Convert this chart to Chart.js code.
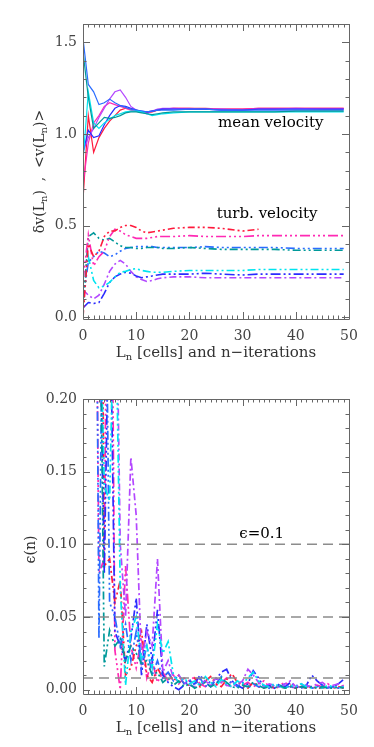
<!DOCTYPE html>
<html><head><meta charset="utf-8">
<script src="https://cdn.jsdelivr.net/npm/chart.js@4.4.1/dist/chart.umd.min.js"></script>
<style>
html,body{margin:0;padding:0;background:#fff;width:374px;height:747px;overflow:hidden}
canvas{position:absolute;left:0}
#c1{top:0;width:374px;height:372px}
#c2{top:372px;width:374px;height:375px}
</style></head><body>
<canvas id="c1" width="374" height="372"></canvas>
<canvas id="c2" width="374" height="375"></canvas>
<script>
// ---------- DATA ----------
const COLORS = {blue:'#2a6cff', teal:'#00999a', cyan:'#00e4f0', dblue:'#2b2bff', violet:'#b347ff', pink:'#ff2ab4', red:'#ff1a3c'};

// top panel: L_n (cells) / iterations
const N_TOP = [0,1,2,3,4,5,6,7,8,9,10,11,12,13,14,15,17,20,23,26,30,33,36,40,45,49];
// mean velocity <v(L_n)>
const mean_blue   = [1.52,1.27,1.23,1.16,1.17,1.19,1.17,1.155,1.145,1.135,1.13,1.125,1.12,1.125,1.13,1.13, 1.13,1.135,1.135,1.13,1.13,1.13,1.13,1.13,1.13,1.13];
const mean_teal   = [1.45,1.20,1.03,1.06,1.09,1.085,1.09,1.10,1.115,1.12,1.12,1.115,1.11,1.105,1.11,1.115, 1.12,1.12,1.12,1.12,1.12,1.12,1.12,1.125,1.125,1.125];
const mean_cyan   = [0.85,1.23,1.06,1.03,1.06,1.08,1.10,1.11,1.12,1.125,1.125,1.12,1.11,1.10,1.105,1.11, 1.115,1.12,1.12,1.12,1.12,1.12,1.12,1.12,1.12,1.12];
const mean_dblue  = [0.90,1.02,0.98,0.99,1.05,1.10,1.14,1.155,1.15,1.14,1.13,1.125,1.12,1.125,1.13,1.135, 1.135,1.135,1.135,1.13,1.13,1.135,1.135,1.135,1.135,1.135];
const mean_violet = [0.90,0.98,1.03,1.09,1.14,1.19,1.23,1.24,1.20,1.15,1.13,1.12,1.11,1.125,1.135,1.14, 1.14,1.135,1.135,1.135,1.13,1.135,1.135,1.14,1.135,1.135];
const mean_pink   = [0.72,0.95,1.06,1.10,1.15,1.17,1.16,1.15,1.14,1.13,1.125,1.12,1.12,1.125,1.13,1.135, 1.14,1.14,1.135,1.135,1.135,1.14,1.14,1.14,1.14,1.14];
const mean_red    = [0.64,1.10,0.90,0.98,1.03,1.07,1.10,1.13,1.14,1.135,1.13,1.12,1.115,1.12,1.13,1.135, 1.14,1.14,1.14,1.135,1.135,1.14,1.14,1.14,1.14,1.14];
// turbulent velocity dv(L_n)
const turb_red    = [0.00,0.40,0.33,0.36,0.44,0.47,0.47,0.49,0.50,0.50,0.49,0.47,0.46,0.465,0.47,0.475, 0.485,0.49,0.49,0.485,0.47,0.48,null,null,null,null];
const turb_pink   = [0.20,0.45,0.28,0.33,0.36,0.44,0.48,0.47,0.45,0.44,0.43,0.43,0.43,0.435,0.44,0.44, 0.44,0.445,0.44,0.44,0.44,0.445,0.445,0.445,0.445,0.445];
const turb_teal   = [0.05,0.44,0.46,0.43,0.42,0.43,0.41,0.39,0.38,0.38,0.375,0.375,0.38,0.38,0.38,0.375, 0.375,0.38,0.375,0.37,0.37,0.37,0.37,0.365,0.365,0.365];
const turb_blue   = [0.10,0.30,0.33,0.36,0.35,0.33,0.34,0.36,0.375,0.38,0.385,0.385,0.385,0.385,0.38,0.38, 0.38,0.38,0.385,0.38,0.38,0.38,0.38,0.375,0.375,0.375];
const turb_cyan   = [0.10,0.33,0.20,0.16,0.17,0.19,0.22,0.245,0.25,0.26,0.265,0.255,0.25,0.245,0.245,0.245, 0.25,0.255,0.255,0.255,0.255,0.26,0.26,0.26,0.26,0.26];
const turb_dblue  = [0.05,0.08,0.075,0.08,0.13,0.19,0.22,0.235,0.245,0.24,0.225,0.215,0.22,0.225,0.23,0.235, 0.235,0.235,0.24,0.235,0.23,0.235,0.235,0.235,0.235,0.235];
const turb_violet = [0.15,0.12,0.10,0.12,0.18,0.25,0.29,0.31,0.29,0.25,0.22,0.205,0.195,0.20,0.21,0.215, 0.22,0.22,0.215,0.215,0.215,0.215,0.215,0.215,0.215,0.215];

// bottom panel: epsilon(n), n = 2..49
const N_BOT = [2,3,4,5,6,7,8,9,10,11,12,13,14,15,16,17,18,19,20,21,22,23,24,25,26,27,28,29,30,31,32,33,34,35,36,37,38,39,40,41,42,43,44,45,46,47,48,49];
const eps_pink   = [0.50,0.08,0.09,0.50,0.027,0.0,0.085,0.03,0.015,0.035,0.008,0.02,0.005,0.012,0.006,0.01,0.004,0.008,0.006, 0.009,0.004,0.002,0.006,0.003,0.005,0.008,0.004,0.002,0.003, 0.005,0.002,0.004,0.006,0.002,0.001,0.003,0.005,0.002,0.001, 0.003,0.002,0.001,0.003,0.002,0.004,0.002,0.001,0.003];
const eps_blue   = [0.60,0.035,0.40,0.06,0.05,0.03,0.045,0.02,0.04,0.015,0.03,0.01,0.02,0.008,0.012,0.006,0.01,0.004,0.007, 0.003,0.008,0.002,0.006,0.004,0.009,0.003,0.006,0.002,0.005, 0.001,0.004,0.002,0.003,0.001,0.003,0.002,0.004,0.001,0.003, 0.002,0.003,0.001,0.002,0.003,0.001,0.002,0.001,0.002];
const eps_dblue  = [0.50,0.30,0.08,0.30,0.04,0.03,0.02,0.035,0.063,0.01,0.045,0.02,0.055,0.01,0.005,0.002,0.0,0.003,0.006, 0.004,0.01,0.005,0.002,0.007,0.012,0.014,0.006,0.003,0.001, 0.004,0.013,0.008,0.002,0.003,0.001,0.004,0.002,0.005,0.002, 0.001,0.003,0.01,0.006,0.003,0.001,0.002,0.004,0.007];
const eps_violet = [0.45,0.40,0.20,0.50,0.35,0.10,0.05,0.16,0.12,0.02,0.04,0.03,0.09,0.012,0.02,0.008,0.01,0.005,0.003, 0.002,0.004,0.006,0.003,0.008,0.005,0.003,0.002,0.004,0.006, 0.014,0.01,0.005,0.002,0.004,0.003,0.001,0.004,0.006,0.002, 0.004,0.003,0.002,0.004,0.005,0.002,0.003,0.004,0.002];
const eps_cyan   = [0.50,0.30,0.14,0.13,0.30,0.07,0.003,0.04,0.05,0.02,0.03,0.015,0.045,0.025,0.033,0.01,0.005,0.008,0.004, 0.006,0.003,0.009,0.005,0.002,0.007,0.004,0.002,0.006,0.004, 0.008,0.012,0.006,0.003,0.002,0.004,0.002,0.001,0.003,0.002, 0.004,0.002,0.001,0.002,0.001,0.003,0.002,0.001,0.002];
const eps_teal   = [0.45,0.35,0.016,0.041,0.03,0.035,0.02,0.03,0.025,0.018,0.02,0.01,0.012,0.005,0.008,0.003,0.006,0.002,0.004, 0.001,0.003,0.005,0.002,0.004,0.008,0.005,0.002,0.001,0.003, 0.002,0.005,0.003,0.001,0.002,0.001,0.003,0.001,0.002,0.001, 0.002,0.001,0.002,0.001,0.002,0.001,0.001,0.002,0.001];
const eps_red    = [0.50,0.60,0.085,0.09,0.06,0.075,0.01,0.015,0.03,0.04,0.01,0.005,0.015,0.008,0.012,0.006,0.01,0.004,0.003, 0.008,0.002,0.006,0.009,0.004,0.002,0.007,0.011,0.005,0.003, 0.001,0.005,0.002,0.001,0.003,0.001,0.002,0.001,0.003,0.001, 0.002,0.001,0.002,0.001,0.001,0.002,0.001,0.002,0.001];
const EPS_REF = [0.1, 0.05, 0.008];   // dashed reference levels

const TOP_Y_TICKS = [0.0, 0.5, 1.0, 1.5];
const BOT_Y_TICKS = [0.0, 0.05, 0.10, 0.15, 0.20];
const X_TICKS = [0, 10, 20, 30, 40, 50];

// ---------- helpers ----------
const FONT = '"DejaVu Serif"';
Chart.defaults.font.family = FONT;
const pts = (xs, ys) => xs.map((x, i) => ({x, y: ys[i]}));

const DASH = {
  blue:[9,3,2,3,2,3,2,3], teal:[2,3,2,3,8,3], cyan:[8,3,2,3,2,3], dblue:[10,3,2,3,2,3],
  violet:[7,3,2,3], pink:[10,3,2,3,2,3,2,3], red:[7,3,2,3,2,3]
};

function lineDs(data, color, dash, width) {
  return {data, borderColor: color, backgroundColor: color, borderWidth: width,
          borderDash: dash || [], pointRadius: 0, fill: false, tension: 0, spanGaps: false};
}

function richText(ctx, segs, cx, cy, size, rot, color) {
  ctx.save();
  ctx.translate(cx, cy); ctx.rotate(rot);
  ctx.fillStyle = color; ctx.textBaseline = 'middle'; ctx.textAlign = 'left';
  const fMain = size + 'px ' + FONT, fSub = Math.round(size * 0.68) + 'px ' + FONT;
  let w = 0;
  for (const [t, sub] of segs) { ctx.font = sub ? fSub : fMain; w += ctx.measureText(t).width; }
  let x = -w / 2;
  for (const [t, sub] of segs) {
    ctx.font = sub ? fSub : fMain;
    ctx.fillText(t, x, sub ? size * 0.32 : 0);
    x += ctx.measureText(t).width;
  }
  ctx.restore();
}

const frameTicks = {
  id: 'frameTicks',
  afterDatasetsDraw(chart, args, o) {
    const {ctx, chartArea: a, scales: {x, y}} = chart;
    ctx.save();
    ctx.strokeStyle = '#666'; ctx.lineWidth = 1;
    ctx.beginPath();
    ctx.rect(Math.round(a.left) + 0.5, Math.round(a.top) + 0.5, Math.round(a.right - a.left), Math.round(a.bottom - a.top));
    ctx.stroke();
    ctx.beginPath();
    for (let i = 0; i <= o.xCount; i++) {
      const v = x.min + i * o.xStep;
      const px = Math.round(x.getPixelForValue(v)) + 0.5;
      const L = (i % o.xMajor === 0) ? 7 : 3.5;
      ctx.moveTo(px, a.bottom); ctx.lineTo(px, a.bottom - L);
      ctx.moveTo(px, a.top); ctx.lineTo(px, a.top + L);
    }
    for (let i = 0; i <= o.yCount; i++) {
      const v = i * o.yStep;
      const py = Math.round(y.getPixelForValue(v)) + 0.5;
      const L = (i % o.yMajor === 0) ? 7 : 3.5;
      ctx.moveTo(a.left, py); ctx.lineTo(a.left + L, py);
      ctx.moveTo(a.right, py); ctx.lineTo(a.right - L, py);
    }
    ctx.stroke();
    ctx.restore();
  },
  afterDraw(chart, args, o) {
    const {ctx, chartArea: a, scales: {x, y}} = chart;
    const cx = (a.left + a.right) / 2;
    richText(ctx, [['L', 0], ['n', 1], [' [cells] and n\u2212iterations', 0]], cx, a.bottom + 34, 15, 0, '#333');
    richText(ctx, o.yTitle, o.yTitleX, (a.top + a.bottom) / 2 + o.yTitleDy, o.yTitleSize, -Math.PI / 2, '#333');
    for (const t of o.notes) {
      ctx.save();
      ctx.font = t.size + 'px ' + FONT; ctx.fillStyle = '#000';
      ctx.textAlign = 'center'; ctx.textBaseline = 'middle';
      ctx.fillText(t.text, x.getPixelForValue(t.x), y.getPixelForValue(t.y));
      ctx.restore();
    }
  }
};

function scalesCfg(yMin, yMax, yTicks, yDigits, xH) {
  return {
    x: {type: 'linear', min: 0, max: 50,
        grid: {display: false, drawTicks: false}, border: {display: false},
        afterBuildTicks: s => { s.ticks = X_TICKS.map(v => ({value: v})); },
        afterFit: s => { s.height = xH; },
        ticks: {color: '#444', font: {size: 14, family: FONT}, padding: 9, maxRotation: 0,
                callback: v => String(v)}},
    y: {type: 'linear', min: yMin, max: yMax,
        grid: {display: false, drawTicks: false}, border: {display: false},
        afterBuildTicks: s => { s.ticks = yTicks.map(v => ({value: v})); },
        afterFit: s => { s.width = 83; },
        ticks: {color: '#444', font: {size: 14, family: FONT}, padding: 6,
                callback: v => Number(v).toFixed(yDigits)}}
  };
}

const common = {responsive: false, maintainAspectRatio: false, animation: false, events: [],
  plugins: {legend: {display: false}, tooltip: {enabled: false}}};

// ---------- TOP CHART ----------
const topSets = [
  lineDs(pts(N_TOP, turb_red), COLORS.red, DASH.red, 1.6),
  lineDs(pts(N_TOP, turb_pink), COLORS.pink, DASH.pink, 1.6),
  lineDs(pts(N_TOP, turb_teal), COLORS.teal, DASH.teal, 1.6),
  lineDs(pts(N_TOP, turb_blue), COLORS.blue, DASH.blue, 1.6),
  lineDs(pts(N_TOP, turb_cyan), COLORS.cyan, DASH.cyan, 1.6),
  lineDs(pts(N_TOP, turb_dblue), COLORS.dblue, DASH.dblue, 1.6),
  lineDs(pts(N_TOP, turb_violet), COLORS.violet, DASH.violet, 1.6),
  lineDs(pts(N_TOP, mean_teal), COLORS.teal, null, 1.2),
  lineDs(pts(N_TOP, mean_cyan), COLORS.cyan, null, 1.2),
  lineDs(pts(N_TOP, mean_blue), COLORS.blue, null, 1.2),
  lineDs(pts(N_TOP, mean_dblue), COLORS.dblue, null, 1.2),
  lineDs(pts(N_TOP, mean_violet), COLORS.violet, null, 1.2),
  lineDs(pts(N_TOP, mean_pink), COLORS.pink, null, 1.2),
  lineDs(pts(N_TOP, mean_red), COLORS.red, null, 1.2)
];
new Chart(document.getElementById('c1'), {
  type: 'line',
  data: {datasets: topSets},
  options: Object.assign({}, common, {
    layout: {padding: {left: 0, right: 25, top: 24, bottom: 0}},
    scales: scalesCfg(-0.01, 1.6, TOP_Y_TICKS, 1, 53),
    plugins: Object.assign({}, common.plugins, {frameTicks: {
      xCount: 50, xStep: 1, xMajor: 10, yCount: 16, yStep: 0.1, yMajor: 5,
      yTitle: [['\u03b4v(L', 0], ['n', 1], [')  ,  <v(L', 0], ['n', 1], [')>', 0]],
      yTitleX: 40, yTitleDy: 0, yTitleSize: 14,
      notes: [{text: 'mean velocity', x: 35.3, y: 1.06, size: 15},
              {text: 'turb. velocity', x: 34.6, y: 0.563, size: 15}]
    }})
  }),
  plugins: [frameTicks]
});

// ---------- BOTTOM CHART ----------
const refSets = EPS_REF.map(v => lineDs([{x: 0, y: v}, {x: 50, y: v}], '#8c8c8c', [10, 6], 1.5));
const botSets = [
  ...refSets,
  lineDs(pts(N_BOT, eps_teal), COLORS.teal, DASH.teal, 1.7),
  lineDs(pts(N_BOT, eps_cyan), COLORS.cyan, DASH.cyan, 1.7),
  lineDs(pts(N_BOT, eps_violet), COLORS.violet, DASH.violet, 1.7),
  lineDs(pts(N_BOT, eps_blue), COLORS.blue, DASH.blue, 1.7),
  lineDs(pts(N_BOT, eps_dblue), COLORS.dblue, DASH.dblue, 1.7),
  lineDs(pts(N_BOT, eps_red), COLORS.red, DASH.red, 1.7),
  lineDs(pts(N_BOT, eps_pink), COLORS.pink, DASH.pink, 1.7)
];
new Chart(document.getElementById('c2'), {
  type: 'line',
  data: {datasets: botSets},
  options: Object.assign({}, common, {
    layout: {padding: {left: 0, right: 25, top: 27, bottom: 0}},
    scales: scalesCfg(-0.003, 0.2, BOT_Y_TICKS, 2, 53),
    plugins: Object.assign({}, common.plugins, {frameTicks: {
      xCount: 50, xStep: 1, xMajor: 10, yCount: 20, yStep: 0.01, yMajor: 5,
      yTitle: [['\u03f5(n)', 0]], yTitleX: 31, yTitleDy: 3, yTitleSize: 14,
      notes: [{text: '\u03f5=0.1', x: 33.6, y: 0.107, size: 15}]
    }})
  }),
  plugins: [frameTicks]
});
</script>
</body></html>
